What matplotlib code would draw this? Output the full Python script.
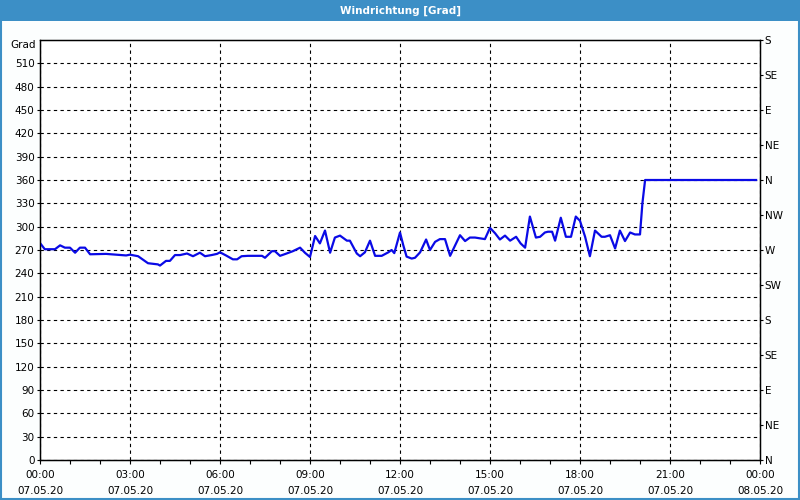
import matplotlib

matplotlib.use("Agg")
import matplotlib.pyplot as plt
from matplotlib.patches import Rectangle

# ---------------------------------------------------------------------------
# Data: hours since 07.05.20 00:00, wind direction [Grad]
# ---------------------------------------------------------------------------

hours = [
    0.00, 0.16, 0.50, 0.67, 0.83, 1.00, 1.17, 1.33, 1.50, 1.67,
    2.20, 2.87, 3.00, 3.27, 3.60, 3.93, 4.00, 4.20, 4.33, 4.50,
    4.67, 4.90, 5.10, 5.33, 5.50, 5.72, 5.90, 6.00, 6.20, 6.43,
    6.57, 6.72, 6.93, 7.40, 7.50, 7.73, 7.83, 8.00, 8.22, 8.43,
    8.67, 8.83, 9.00, 9.17, 9.33, 9.50, 9.67, 9.83, 10.00, 10.23,
    10.33, 10.56, 10.67, 10.83, 11.00, 11.17, 11.39, 11.61, 11.72, 11.81,
    12.00, 12.11, 12.22, 12.39, 12.50, 12.67, 12.87, 13.00, 13.17, 13.33,
    13.50, 13.67, 14.00, 14.17, 14.33, 14.50, 14.83, 15.00, 15.17, 15.33,
    15.50, 15.67, 15.87, 16.02, 16.17, 16.33, 16.53, 16.67, 16.83, 16.93,
    17.07, 17.17, 17.36, 17.53, 17.70, 17.86, 18.00, 18.17, 18.33, 18.50,
    18.72, 18.83, 19.00, 19.17, 19.33, 19.50, 19.67, 19.83, 20.00, 20.08,
    20.17, 23.87,
]
degrees = [
    279, 271, 271, 276, 273, 273, 266.5, 273, 273, 264.5,
    265, 263, 264, 262, 253, 251.5, 250, 256, 256, 263.5,
    263.5, 265.5, 262, 266.5, 262, 263.5, 265, 267, 263, 258,
    258, 262, 262.5, 262.5, 260, 268.5, 268.5, 262.5, 265.5, 268.5,
    273, 266.5, 261, 288, 278.5, 295, 266.5, 286, 288.5, 282,
    282, 265.5, 262, 267, 282, 262.5, 262.5, 267, 270, 266,
    292.5, 276, 261.5, 259, 260, 267, 283.5, 270, 280.5, 284,
    284, 262.5, 289, 281.5, 286, 286, 284, 298.5, 291.5, 283.5,
    288.5, 282, 287, 278.5, 273, 313, 286, 287, 292.5, 293.5,
    293.5, 282, 311.5, 287, 287, 313, 307.5, 287, 262, 295,
    287, 287, 289, 272, 295, 281.5, 292.5, 290, 290, 330,
    360, 360,
]

left_ticks = list(range(0, 540, 30))
compass_ticks = list(range(0, 541, 45))
compass_labels = ["N", "NE", "E", "SE", "S", "SW", "W", "NW",
                  "N", "NE", "E", "SE", "S"]
x_ticks = list(range(0, 25, 3))
x_labels = [
    "00:00\n07.05.20", "03:00\n07.05.20", "06:00\n07.05.20",
    "09:00\n07.05.20", "12:00\n07.05.20", "15:00\n07.05.20",
    "18:00\n07.05.20", "21:00\n07.05.20", "00:00\n08.05.20",
]

TITLE = "Windrichtung [Grad]"
BAR_BLUE = "#3c8fc6"

fig = plt.figure(figsize=(8, 5), dpi=100, facecolor="#fcfefe")

# title bar and window frame
fig.patches.append(Rectangle((0, 1 - 21 / 500), 1, 21 / 500, transform=fig.transFigure,
                             facecolor=BAR_BLUE, edgecolor="none", zorder=0))
fig.patches.append(Rectangle((0.001, 0.002), 0.998, 0.996, transform=fig.transFigure,
                             facecolor="none", edgecolor=BAR_BLUE, linewidth=1.5, zorder=5))
fig.text(0.5, 1 - 10.5 / 500, TITLE, ha="center", va="center", color="white",
         fontsize=7.5, fontweight="bold")

ax = fig.add_axes([40 / 800, 40 / 500, 720 / 800, 420 / 500])
ax.set_facecolor("white")
ax.plot(hours, degrees, color="#0a0ae6", linewidth=1.6, zorder=3)

ax.set_xlim(0, 24)
ax.set_ylim(0, 540)

ax.set_xticks(x_ticks)
ax.set_xticklabels(x_labels, fontsize=7.5, linespacing=1.75)
ax.set_xticks(range(0, 25), minor=True)
ax.set_yticks(left_ticks)
ax.set_yticklabels([str(v) for v in left_ticks], fontsize=7.5)
ax.tick_params(axis="x", which="both", direction="out", length=3, width=0.8, pad=4)
ax.tick_params(axis="y", direction="out", length=2, width=0.8, pad=2)

ax.grid(True, which="major", color="black", linestyle=(0, (3, 3)), linewidth=0.8)
for spine in ax.spines.values():
    spine.set_linewidth(1.0)

ax.text(-0.006, 540, "Grad", transform=ax.get_yaxis_transform(), ha="right", va="top",
        fontsize=7.5)

ax2 = ax.twinx()
ax2.set_ylim(0, 540)
ax2.set_yticks(compass_ticks)
ax2.set_yticklabels(compass_labels, fontsize=7.5)
ax2.tick_params(axis="y", direction="out", length=2, width=0.8, pad=1.5)

fig.savefig("out.png", dpi=100, facecolor=fig.get_facecolor())
